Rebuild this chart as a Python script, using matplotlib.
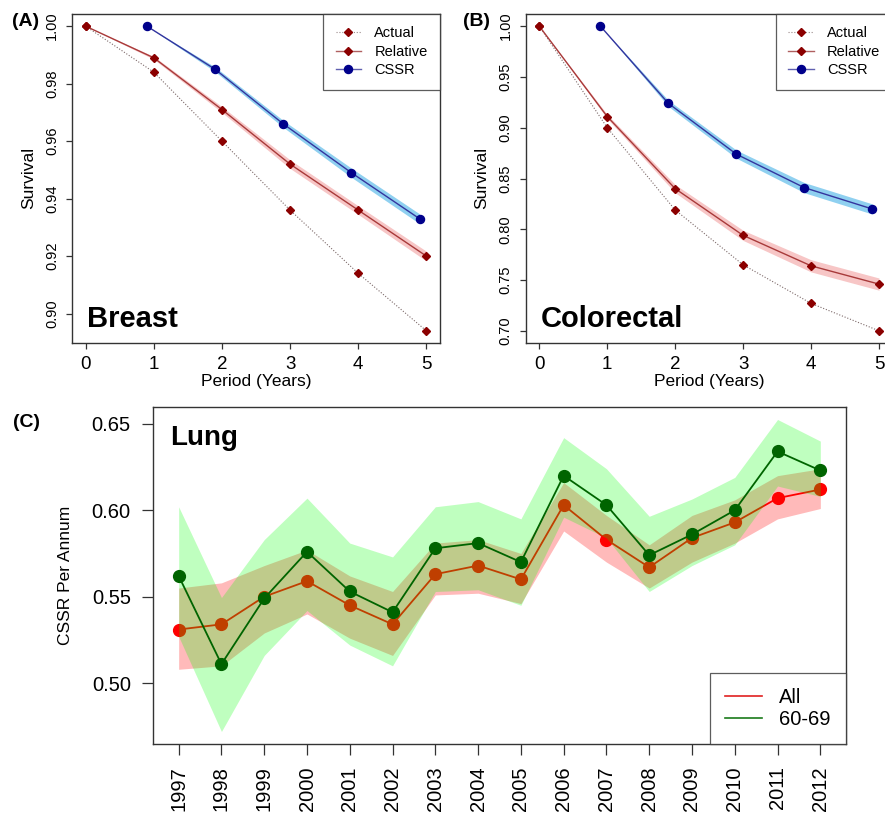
import matplotlib
matplotlib.use('Agg')
import matplotlib.pyplot as plt
from matplotlib.lines import Line2D

plt.rcParams['font.family'] = ['Liberation Sans', 'DejaVu Sans']

# ---------------- data ----------------
periods = [0, 1, 2, 3, 4, 5]
cssr_periods = [0.9, 1.9, 2.9, 3.9, 4.9]

breast_actual = [1.000, 0.984, 0.960, 0.936, 0.914, 0.894]
breast_relative = [1.000, 0.989, 0.971, 0.952, 0.936, 0.920]
breast_relative_lo = [1.000, 0.9885, 0.9700, 0.9505, 0.9345, 0.9183]
breast_relative_hi = [1.000, 0.9895, 0.9720, 0.9535, 0.9375, 0.9217]
breast_cssr = [1.000, 0.985, 0.966, 0.949, 0.933]
breast_cssr_lo = [1.000, 0.9842, 0.9648, 0.9474, 0.9313]
breast_cssr_hi = [1.000, 0.9858, 0.9672, 0.9506, 0.9347]

colo_actual = [1.000, 0.900, 0.819, 0.765, 0.727, 0.700]
colo_relative = [1.000, 0.911, 0.840, 0.794, 0.764, 0.746]
colo_relative_lo = [1.000, 0.909, 0.836, 0.789, 0.758, 0.740]
colo_relative_hi = [1.000, 0.913, 0.844, 0.799, 0.770, 0.752]
colo_cssr = [1.000, 0.924, 0.874, 0.841, 0.820]
colo_cssr_lo = [1.000, 0.921, 0.870, 0.836, 0.815]
colo_cssr_hi = [1.000, 0.927, 0.878, 0.846, 0.825]

years = list(range(1997, 2013))
lung_all = [0.531, 0.534, 0.550, 0.559, 0.545, 0.534, 0.563, 0.568,
            0.560, 0.603, 0.583, 0.567, 0.584, 0.593, 0.607, 0.612]
lung_all_lo = [0.508, 0.510, 0.529, 0.540, 0.526, 0.516, 0.551, 0.552,
               0.546, 0.588, 0.570, 0.555, 0.570, 0.581, 0.595, 0.601]
lung_all_hi = [0.555, 0.558, 0.568, 0.577, 0.562, 0.553, 0.581, 0.583,
               0.575, 0.616, 0.597, 0.580, 0.597, 0.606, 0.620, 0.624]
lung_6069 = [0.562, 0.511, 0.549, 0.576, 0.553, 0.541, 0.578, 0.581,
             0.570, 0.620, 0.603, 0.574, 0.586, 0.600, 0.634, 0.623]
lung_6069_lo = [0.527, 0.472, 0.516, 0.542, 0.522, 0.510, 0.553, 0.554,
                0.545, 0.596, 0.584, 0.553, 0.568, 0.580, 0.614, 0.608]
lung_6069_hi = [0.602, 0.5495, 0.583, 0.607, 0.581, 0.573, 0.602, 0.605,
                0.595, 0.642, 0.624, 0.5965, 0.6065, 0.619, 0.6525, 0.640]

breast_yticks = [0.90, 0.92, 0.94, 0.96, 0.98, 1.00]
colo_yticks = [0.70, 0.75, 0.80, 0.85, 0.90, 0.95, 1.00]
lung_yticks = [0.50, 0.55, 0.60, 0.65]

# ---------------- layout helpers ----------------
W, H = 885, 813


def rect(l, t, r, b):
    return [l / W, 1 - b / H, (r - l) / W, (b - t) / H]


def rlim(vals):
    lo, hi = min(vals), max(vals)
    pad = 0.04 * (hi - lo)
    return lo - pad, hi + pad


def ftext(x, y, s, **kw):
    fig.text(x / W, 1 - y / H, s, **kw)


SPINE = '#333333'
fig = plt.figure(figsize=(W / 100, H / 100), dpi=100)


def style_axes(ax, tick_len):
    for s in ax.spines.values():
        s.set_color(SPINE)
        s.set_linewidth(1.0)
    ax.tick_params(direction='out', length=tick_len, width=0.9, color=SPINE)


def survival_panel(rc, actual, rel, rel_lo, rel_hi, cssr, cssr_lo, cssr_hi,
                   yticks, yfmt, name):
    ax = fig.add_axes(rc)
    ax.fill_between(cssr_periods, cssr_lo, cssr_hi, color='#8fd0f0', lw=0, zorder=1)
    ax.fill_between(periods, rel_lo, rel_hi, color='#f7c6c6', lw=0, zorder=1)
    ax.plot(periods, actual, ls=(0, (1, 1.6)), color='#7d6a6a', lw=0.8,
            marker='D', ms=3.6, mfc='#8B0000', mec='#8B0000', zorder=3)
    ax.plot(periods, rel, ls='-', color='#a83a3a', lw=1.0,
            marker='D', ms=3.6, mfc='#8B0000', mec='#8B0000', zorder=3)
    ax.plot(cssr_periods, cssr, ls='-', color='#34349e', lw=1.0,
            marker='o', ms=5.8, mfc='#00008B', mec='#00008B', zorder=4)
    ax.set_xlim(*rlim(periods))
    ax.set_ylim(*rlim(actual + rel + cssr))
    ax.set_xticks(periods)
    ax.set_yticks(yticks)
    ax.set_yticklabels([yfmt.format(v) for v in yticks], rotation=90, va='center')
    style_axes(ax, 4.3)
    ax.tick_params(axis='x', labelsize=13.5, pad=5)
    ax.tick_params(axis='y', labelsize=10.5, pad=5)
    ax.text(0.04, 0.03, name, transform=ax.transAxes, fontsize=21,
            fontweight='bold', ha='left', va='bottom', zorder=6)
    handles = [
        Line2D([], [], ls=(0, (1, 1.6)), color='#9a8a8a', lw=0.8, marker='D',
               ms=3.6, mfc='#8B0000', mec='#8B0000'),
        Line2D([], [], ls='-', color='#b06060', lw=1.0, marker='D', ms=3.6,
               mfc='#8B0000', mec='#8B0000'),
        Line2D([], [], ls='-', color='#6060b0', lw=1.0, marker='o', ms=5.8,
               mfc='#00008B', mec='#00008B'),
    ]
    leg = ax.legend(handles, ['Actual', 'Relative', 'CSSR'], loc='upper right',
                    borderaxespad=0, fancybox=False, fontsize=10.5,
                    handlelength=1.75, handletextpad=0.9, labelspacing=0.3,
                    borderpad=0.85)
    leg.get_frame().set_edgecolor(SPINE)
    leg.get_frame().set_linewidth(0.9)
    return ax


# Panel A
axA = survival_panel(rect(72, 14, 440, 343), breast_actual, breast_relative,
                     breast_relative_lo, breast_relative_hi, breast_cssr,
                     breast_cssr_lo, breast_cssr_hi, breast_yticks, '{:.2f}', 'Breast')
# Panel B
axB = survival_panel(rect(525.7, 14, 892.6, 343), colo_actual, colo_relative,
                     colo_relative_lo, colo_relative_hi, colo_cssr,
                     colo_cssr_lo, colo_cssr_hi, colo_yticks, '{:.2f}', 'Colorectal')

ftext(26, 21, '(A)', fontsize=14, fontweight='bold', ha='center', va='center')
ftext(476, 21, '(B)', fontsize=14, fontweight='bold', ha='center', va='center')
ftext(29, 178, 'Survival', fontsize=12.5, rotation=90, ha='center', va='center')
ftext(482, 178, 'Survival', fontsize=12.5, rotation=90, ha='center', va='center')
ftext(256, 381, 'Period (Years)', fontsize=12.5, ha='center', va='center')
ftext(709, 381, 'Period (Years)', fontsize=12.5, ha='center', va='center')

# Panel C
axC = fig.add_axes(rect(153, 407, 846, 744))
axC.fill_between(years, lung_all_lo, lung_all_hi, color='#ff0000', alpha=0.27,
                 lw=0, zorder=1)
axC.plot(years, lung_all, '-', color='#ff0000', lw=1.3, marker='o', ms=8.5,
         mfc='#ff0000', mec='#ff0000', zorder=2)
axC.fill_between(years, lung_6069_lo, lung_6069_hi, color='#00ff00', alpha=0.25,
                 lw=0, zorder=3)
axC.plot(years, lung_6069, '-', color='#006400', lw=1.3, marker='o', ms=8.5,
         mfc='#006400', mec='#006400', zorder=4)
axC.set_xlim(*rlim(years))
axC.set_ylim(*rlim(lung_all_lo + lung_all_hi + lung_6069_lo + lung_6069_hi))
axC.set_xticks(years)
axC.set_xticklabels([str(y) for y in years], rotation=90, va='top')
axC.set_yticks(lung_yticks)
axC.set_yticklabels(['{:.2f}'.format(v) for v in lung_yticks])
style_axes(axC, 8)
axC.tick_params(axis='both', labelsize=14.5, pad=8)
axC.text(0.025, 0.948, 'Lung', transform=axC.transAxes, fontsize=20,
         fontweight='bold', ha='left', va='top', zorder=6)
legC = axC.legend([Line2D([], [], color='#e02020', lw=1.2),
                   Line2D([], [], color='#1a7a1a', lw=1.2)],
                  ['All', '60-69'], loc='lower right', borderaxespad=0,
                  fancybox=False, fontsize=14.5, handlelength=1.85,
                  handletextpad=0.85, labelspacing=0.15, borderpad=0.75)
legC.get_frame().set_edgecolor(SPINE)
legC.get_frame().set_linewidth(0.9)

ftext(26, 422, '(C)', fontsize=14, fontweight='bold', ha='center', va='center')
ftext(65, 575, 'CSSR Per Annum', fontsize=12.5, rotation=90, ha='center', va='center')

fig.savefig('out.png', dpi=100, facecolor='white')
